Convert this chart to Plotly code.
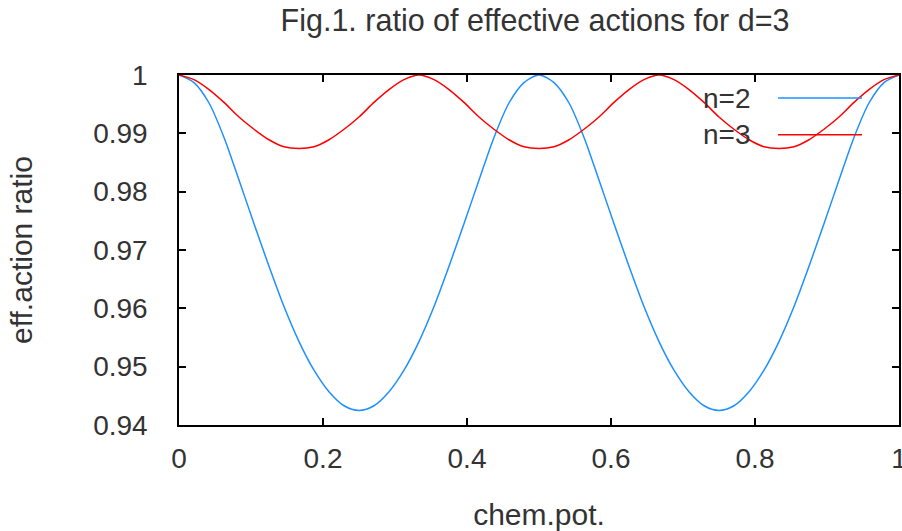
import plotly.graph_objects as go

# chemical potential grid (steps of 1/48)
chem_pot = [0.0, 0.0208, 0.0417, 0.0625, 0.0833, 0.1042, 0.125, 0.1458, 0.1667, 0.1875,
            0.2083, 0.2292, 0.25, 0.2708, 0.2917, 0.3125, 0.3333, 0.3542, 0.375, 0.3958,
            0.4167, 0.4375, 0.4583, 0.4792, 0.5, 0.5208, 0.5417, 0.5625, 0.5833, 0.6042,
            0.625, 0.6458, 0.6667, 0.6875, 0.7083, 0.7292, 0.75, 0.7708, 0.7917, 0.8125,
            0.8333, 0.8542, 0.875, 0.8958, 0.9167, 0.9375, 0.9583, 0.9792, 1.0]

# n=2 ratio values
ratio_n2 = [1.0, 0.9987, 0.9952, 0.9893, 0.9820, 0.9745, 0.9672, 0.9603, 0.9543, 0.9494,
            0.9457, 0.9433, 0.9425, 0.9433, 0.9457, 0.9494, 0.9543, 0.9603, 0.9672, 0.9745,
            0.9820, 0.9893, 0.9952, 0.9987, 1.0, 0.9987, 0.9952, 0.9893, 0.9820, 0.9745,
            0.9672, 0.9603, 0.9543, 0.9494, 0.9457, 0.9433, 0.9425, 0.9433, 0.9457, 0.9494,
            0.9543, 0.9603, 0.9672, 0.9745, 0.9820, 0.9893, 0.9952, 0.9987, 1.0]

# n=3 ratio values
ratio_n3 = [1.0, 0.9992, 0.9975, 0.9953, 0.9928, 0.9907, 0.9889, 0.9877, 0.9874, 0.9877,
            0.9889, 0.9907, 0.9928, 0.9953, 0.9975, 0.9992, 1.0, 0.9992, 0.9975, 0.9953,
            0.9928, 0.9907, 0.9889, 0.9877, 0.9874, 0.9877, 0.9889, 0.9907, 0.9928, 0.9953,
            0.9975, 0.9992, 1.0, 0.9992, 0.9975, 0.9953, 0.9928, 0.9907, 0.9889, 0.9877,
            0.9874, 0.9877, 0.9889, 0.9907, 0.9928, 0.9953, 0.9975, 0.9992, 1.0]

x_ticks = [0, 0.2, 0.4, 0.6, 0.8, 1]
x_tick_labels = ["0", "0.2", "0.4", "0.6", "0.8", "1"]
y_ticks = [0.94, 0.95, 0.96, 0.97, 0.98, 0.99, 1.0]
y_tick_labels = ["0.94", "0.95", "0.96", "0.97", "0.98", "0.99", "1"]

series_names = ["n=2", "n=3"]
series_colors = ["#1e90ff", "#ff0000"]

FONT = "Liberation Sans, Arial, sans-serif"
TXT = "#333333"

fig = go.Figure()
for name, ys, col in zip(series_names, [ratio_n2, ratio_n3], series_colors):
    fig.add_trace(go.Scatter(x=chem_pot, y=ys, mode="lines", name=name,
                             line=dict(color=col, width=1.5, shape="spline", smoothing=0.8),
                             showlegend=False))

# manual gnuplot-style legend (text left, sample line right)
leg_y = [0.934, 0.829]
for name, col, yy in zip(series_names, series_colors, leg_y):
    fig.add_annotation(x=0.797, y=yy, xref="paper", yref="paper", text=name,
                       showarrow=False, xanchor="right", yanchor="middle",
                       font=dict(family=FONT, size=28, color=TXT))
    fig.add_shape(type="line", xref="paper", yref="paper", x0=0.832, x1=0.9486,
                  y0=yy, y1=yy, line=dict(color=col, width=1.5))

axis_common = dict(showgrid=False, zeroline=False, showline=True, linecolor="black",
                   linewidth=1.5, mirror="ticks", ticks="inside", ticklen=7,
                   tickwidth=1.5, tickcolor="black", automargin=False,
                   ticklabeloverflow="allow",
                   tickfont=dict(family=FONT, size=28, color=TXT))

fig.update_layout(
    width=902, height=531,
    margin=dict(l=179, r=3, t=75, b=106, autoexpand=False),
    paper_bgcolor="white", plot_bgcolor="white",
    title=dict(text="Fig.1. ratio of effective actions for d=3", x=535 / 902, xanchor="center",
               xref="container", yref="container", y=1 - 20 / 531, yanchor="middle",
               automargin=False,
               font=dict(family=FONT, size=30.5, color=TXT)),
    xaxis=dict(range=[0, 1], tickvals=x_ticks, ticktext=x_tick_labels,
               title=dict(text="chem.pot.", font=dict(family=FONT, size=30, color=TXT), standoff=31),
               ticklabelstandoff=8, **axis_common),
    yaxis=dict(range=[0.94, 1.0], tickvals=y_ticks, ticktext=y_tick_labels,
               title=dict(text="eff.action ratio", font=dict(family=FONT, size=30, color=TXT), standoff=52),
               ticklabelstandoff=24, **axis_common),
)

fig.write_html(
    "out.html",
    config={"displayModeBar": False},
    post_script="document.body.style.margin='0';document.body.style.padding='0';"
                "document.documentElement.style.overflow='hidden';",
)
